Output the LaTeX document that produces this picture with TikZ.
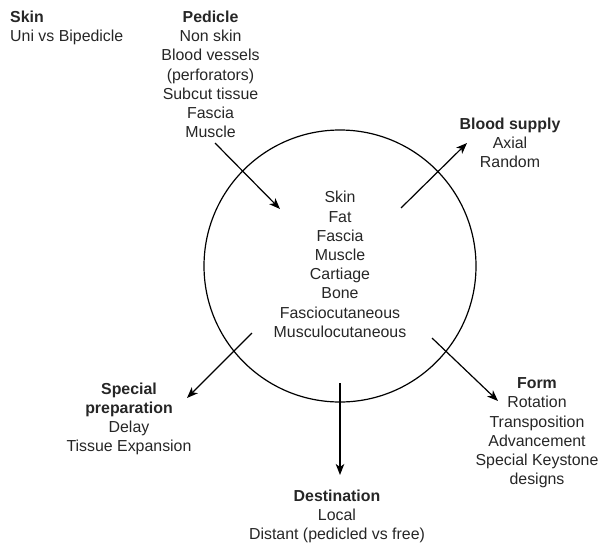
\documentclass[tikz,border=0pt]{standalone}
\usepackage{fontspec}
\setmainfont{Liberation Sans}
\usetikzlibrary{arrows.meta}
\setlength{\tabcolsep}{0pt}
\tikzset{
  lbl/.style={inner sep=0pt, font=\fontsize{15.9}{19.2}\selectfont, text=black!85},
  arr/.style={line width=1.2pt, -{Stealth[length=11pt, width=8.5pt, inset=3pt]}},
  ring/.style={circle, draw, line width=1.2pt, minimum size=272pt, inner sep=0pt}
}
\begin{document}
\begin{tikzpicture}[x=1pt, y=-1pt]
\useasboundingbox (0,0) rectangle (604,543);
\node[ring] (c) at (340,266) {};
\node[lbl] (types) at (340,266.3) {\begin{tabular}{c}Skin\\Fat\\Fascia\\Muscle\\Cartiage\\Bone\\Fasciocutaneous\\Musculocutaneous\end{tabular}};
\node[lbl, anchor=west] (skin) at (10,28.3) {\begin{tabular}{l}\textbf{Skin}\\Uni vs Bipedicle\end{tabular}};
\node[lbl] (pedicle) at (210.5,76.3) {\begin{tabular}{c}\textbf{Pedicle}\\Non skin\\Blood vessels\\(perforators)\\Subcut tissue\\Fascia\\Muscle\end{tabular}};
\node[lbl] (blood) at (510,144.8) {\begin{tabular}{c}\textbf{Blood supply}\\Axial\\Random\end{tabular}};
\node[lbl] (special) at (129,419) {\begin{tabular}{c}\textbf{Special}\\\textbf{preparation}\\Delay\\Tissue Expansion\end{tabular}};
\node[lbl] (form) at (537,432.8) {\begin{tabular}{c}\textbf{Form}\\Rotation\\Transposition\\Advancement\\Special Keystone\\designs\end{tabular}};
\node[lbl] (dest) at (337,516.5) {\begin{tabular}{c}\textbf{Destination}\\Local\\Distant (pedicled vs free)\end{tabular}};
\coordinate (p1) at (215,143); \coordinate (p2) at (280,209);
\coordinate (b1) at (401,208); \coordinate (b2) at (467,143);
\coordinate (s1) at (252,333); \coordinate (s2) at (187,398);
\coordinate (f1) at (432,338); \coordinate (f2) at (498,401);
\coordinate (d1) at (340,383); \coordinate (d2) at (340,475);
\draw[arr] (p1) -- (p2);
\draw[arr] (b1) -- (b2);
\draw[arr] (s1) -- (s2);
\draw[arr] (f1) -- (f2);
\draw[arr] (d1) -- (d2);
\end{tikzpicture}
\end{document}
